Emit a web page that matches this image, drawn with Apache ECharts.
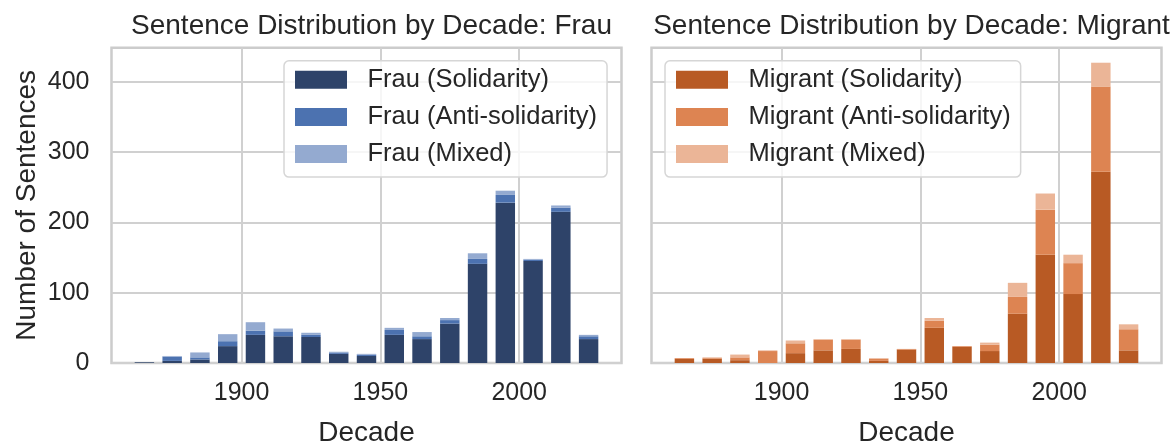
<!DOCTYPE html>
<html>
<head>
<meta charset="utf-8">
<script src="https://cdn.jsdelivr.net/npm/echarts@6/dist/echarts.min.js"></script>
<style>
html,body{margin:0;padding:0;background:#fff;}
#chart{width:1176px;height:442px;}
</style>
</head>
<body>
<div id="chart"></div>
<script>
const decades = [1860,1870,1880,1890,1900,1910,1920,1930,1940,1950,1960,1970,1980,1990,2000,2010,2020];
const frauSol   = [1,3,5,24,40,38,37,13,10,40,34,56,141,228,145,215,34];
const frauAnti  = [0,6,3,7,6,7,3,2,2,7,4,5,7,11,2,6,4];
const frauMixed = [0,1,7,10,12,4,3,1,1,3,6,3,8,6,1,3,2];
const migSol    = [6,6,4,0,14,18,20,3,19,50,23,17,70,154,98,272,18];
const migAnti   = [1,1,4,17,14,15,13,3,1,10,1,9,24,64,44,121,30];
const migMixed  = [0,1,4,1,4,1,1,1,0,4,0,3,20,23,12,34,7];
const xTicks = [1900, 1950, 2000];
const titles = ['Sentence Distribution by Decade: Frau', 'Sentence Distribution by Decade: Migrant'];
const frauNames = ['Frau (Solidarity)', 'Frau (Anti-solidarity)', 'Frau (Mixed)'];
const migNames = ['Migrant (Solidarity)', 'Migrant (Anti-solidarity)', 'Migrant (Mixed)'];

const FONT = "'Liberation Sans', Arial, sans-serif";
const TXT = '#262626';
const GRIDC = '#d0d0d0';

// bar geometry in data units
const barOffset = 5, barYears = 7;
const xLo0 = decades[0] + barOffset - barYears / 2;
const xHi0 = decades[decades.length - 1] + barOffset + barYears / 2;
const xPad = (xHi0 - xLo0) * 0.05;
const xMin = xLo0 - xPad, xMax = xHi0 + xPad;

const totals = decades.map((d, i) => Math.max(frauSol[i] + frauAnti[i] + frauMixed[i], migSol[i] + migAnti[i] + migMixed[i]));
const yMax = Math.max(...totals) * 1.05;

const grids = [
  {left: 111.5, top: 47.7, width: 510, height: 315.3},
  {left: 651.5, top: 47.7, width: 510, height: 315.3}
];
const barPx = barYears * grids[0].width / (xMax - xMin);

const chart = echarts.init(document.getElementById('chart'), null, {renderer: 'canvas'});

function xAxis(gi) {
  return {
    type: 'value', gridIndex: gi, min: xMin, max: xMax,
    name: 'Decade', nameLocation: 'middle', nameGap: 56,
    nameTextStyle: {fontFamily: FONT, fontSize: 28, color: TXT},
    axisLine: {show: false}, axisTick: {show: false, customValues: xTicks},
    axisLabel: {customValues: xTicks, fontFamily: FONT, fontSize: 25, color: TXT, margin: 18, formatter: v => String(v)},
    splitLine: {show: true, lineStyle: {color: GRIDC, width: 2}}
  };
}
function yAxis(gi, showLabels) {
  return {
    type: 'value', gridIndex: gi, min: 0, max: yMax, interval: 100,
    name: showLabels ? 'Number of Sentences' : '', nameLocation: 'middle', nameGap: 70,
    nameTextStyle: {fontFamily: FONT, fontSize: 28, color: TXT},
    axisLine: {show: false}, axisTick: {show: false},
    axisLabel: {show: showLabels, showMaxLabel: false, fontFamily: FONT, fontSize: 25, color: TXT, margin: 22},
    splitLine: {show: true, showMaxLine: false, lineStyle: {color: GRIDC, width: 2}}
  };
}
// data given as [value, decade-position]; encode maps columns to axes so the value column is stacked
function bars(name, vals, color, gi, stack) {
  return {
    type: 'bar', name: name, xAxisIndex: gi, yAxisIndex: gi, stack: stack,
    barWidth: barPx, itemStyle: {color: color},
    encode: {x: 1, y: 0},
    data: decades.map((d, i) => [vals[i], d + barOffset]),
    emphasis: {disabled: true}, animation: false
  };
}
function legend(names, left) {
  return {
    data: names, orient: 'vertical', left: left, top: 60.7,
    itemWidth: 52, itemHeight: 18, itemGap: 9.2,
    icon: 'rect',
    padding: [5, 10, 9, 11],
    backgroundColor: 'rgba(255,255,255,0.8)',
    borderColor: '#d6d6d6', borderWidth: 1.5, borderRadius: 5,
    textStyle: {fontFamily: FONT, fontSize: 25.5, color: TXT, lineHeight: 28, padding: [0, 0, 0, 15.5]},
    selectedMode: false
  };
}

chart.setOption({
  backgroundColor: '#ffffff',
  animation: false,
  title: [
    {text: titles[0], left: 366.5, top: 7, textAlign: 'center', textStyle: {fontFamily: FONT, fontSize: 28, fontWeight: 'normal', color: TXT}},
    {text: titles[1], left: 906.5, top: 7, textAlign: 'center', textStyle: {fontFamily: FONT, fontSize: 28, fontWeight: 'normal', color: TXT}}
  ],
  legend: [legend(frauNames, 284), legend(migNames, 665)],
  grid: grids.map(g => Object.assign({show: true, outerBoundsMode: 'none', containLabel: false, borderColor: '#cccccc', borderWidth: 2.5, backgroundColor: '#fff'}, g)),
  xAxis: [xAxis(0), xAxis(1)],
  yAxis: [yAxis(0, true), yAxis(1, false)],
  series: [
    bars(frauNames[0], frauSol, '#2e4369', 0, 'f'),
    bars(frauNames[1], frauAnti, '#4c72b0', 0, 'f'),
    bars(frauNames[2], frauMixed, '#94aad0', 0, 'f'),
    bars(migNames[0], migSol, '#b85a24', 1, 'm'),
    bars(migNames[1], migAnti, '#dd8452', 1, 'm'),
    bars(migNames[2], migMixed, '#ebb597', 1, 'm')
  ]
});
</script>
</body>
</html>
